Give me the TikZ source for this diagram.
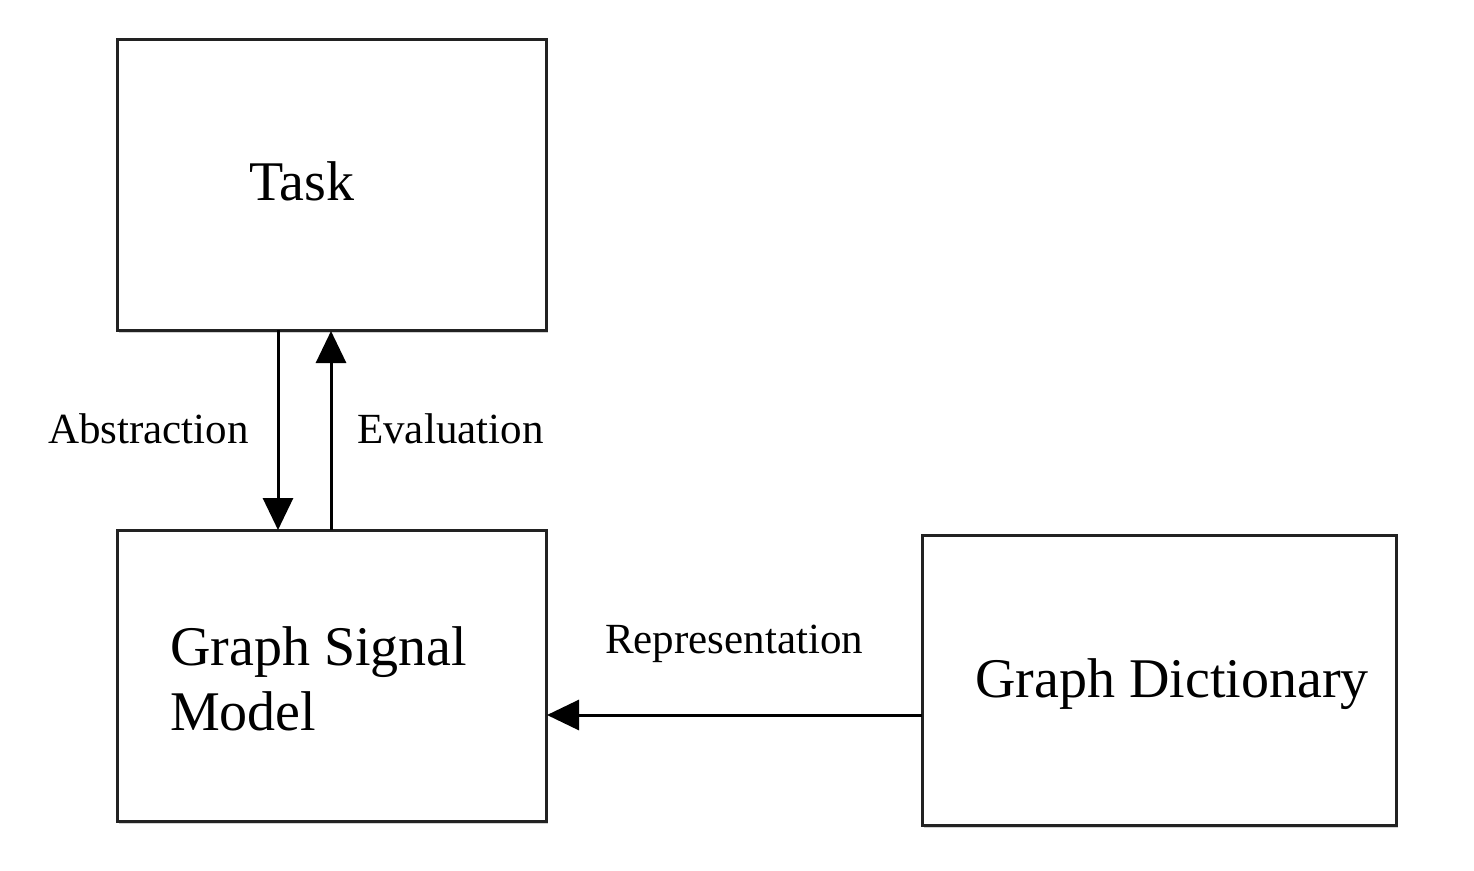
\documentclass[tikz,border=0pt]{standalone}
\usepackage{fontspec}
\setmainfont{Liberation Serif}
\usetikzlibrary{arrows.meta,shadows}
\definecolor{linec}{HTML}{222222}
\tikzset{
  blk/.style={draw=linec, line width=3pt, fill=white, drop shadow={shadow xshift=2pt, shadow yshift=-3pt, opacity=0.18, fill=black}},
  conn/.style={draw=black, line width=3pt, -{Triangle[width=30pt,length=32pt]}},
  bigtxt/.style={font=\fontsize{56}{65}\selectfont, inner sep=0pt},
  lbl/.style={font=\fontsize{43}{50}\selectfont, inner sep=0pt},
}
\begin{document}
\begin{tikzpicture}[x=1pt,y=-1pt]
\useasboundingbox (0,0) rectangle (1474,870);
\path[blk] (117,39) rectangle (546,330);
\path[blk] (117,530) rectangle (546,821);
\path[blk] (922,535) rectangle (1396,825);
\coordinate (taskA) at (278,330);
\coordinate (gsmA) at (278,530);
\coordinate (gsmE) at (331,530);
\coordinate (taskE) at (331,331);
\coordinate (gdR) at (922,715);
\coordinate (gsmR) at (547,715);
\node[bigtxt, anchor=base] (task) at (302,200) {Task};
\node[bigtxt, anchor=base west, align=left] (gsm) at (170,730) {Graph Signal\\Model};
\node[bigtxt, anchor=base west] (gd) at (975,697) {Graph Dictionary};
\draw[conn] (taskA) -- (gsmA);
\draw[conn] (gsmE) -- (taskE);
\draw[conn] (gdR) -- (gsmR);
\node[lbl, anchor=base west] (abs) at (48,443) {Abstraction};
\node[lbl, anchor=base west] (eva) at (357,443) {Evaluation};
\node[lbl, anchor=base west] (rep) at (605,653) {Representation};
\end{tikzpicture}
\end{document}
